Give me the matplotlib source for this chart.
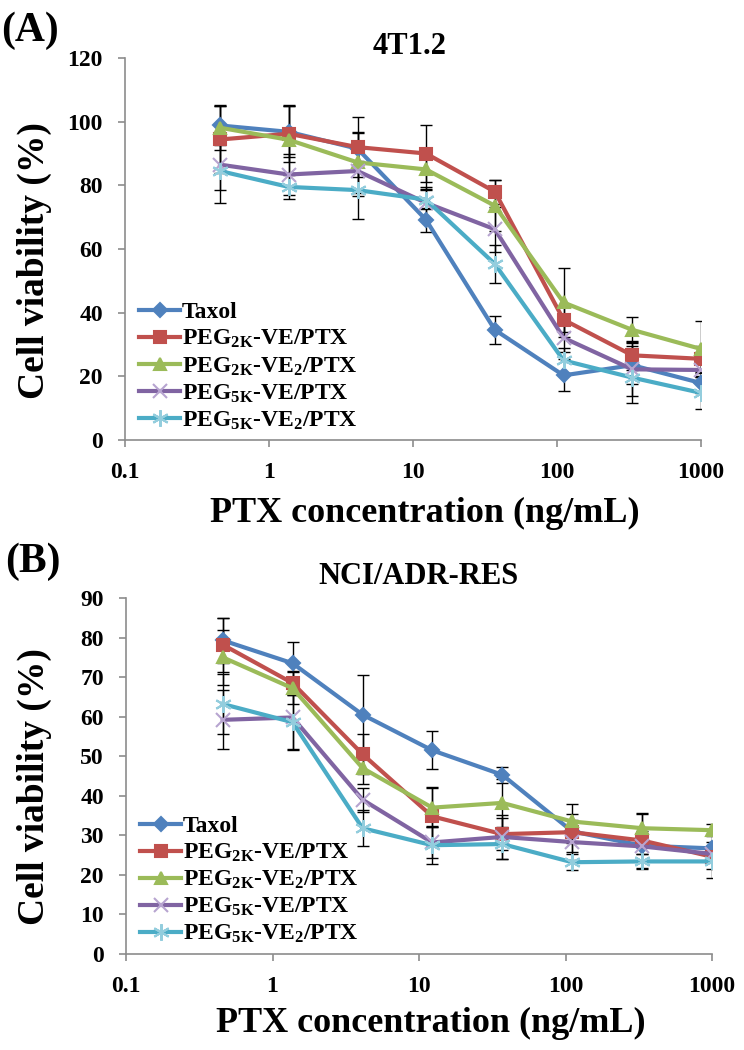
import numpy as np
import matplotlib
matplotlib.use("Agg")
import matplotlib.pyplot as plt

plt.rcParams.update({
    "font.family": "Liberation Serif",
    "font.weight": "bold",
    "mathtext.fontset": "custom",
    "mathtext.rm": "Liberation Serif:bold",
    "mathtext.bf": "Liberation Serif:bold",
    "mathtext.it": "Liberation Serif:bold",
})

# PTX concentrations (ng/mL), 3-fold dilutions
conc = [0.457, 1.37, 4.12, 12.3, 37.0, 111.0, 333.0, 1000.0]

series_labels = [
    "Taxol",
    r"PEG$_{\mathrm{2K}}$-VE/PTX",
    r"PEG$_{\mathrm{2K}}$-VE$_{\mathrm{2}}$/PTX",
    r"PEG$_{\mathrm{5K}}$-VE/PTX",
    r"PEG$_{\mathrm{5K}}$-VE$_{\mathrm{2}}$/PTX",
]

# (A) 4T1.2
a_taxol = [98.8, 96.8, 91.5, 69.2, 34.6, 20.3, 23.5, 17.9]
a_2kve = [94.4, 96.2, 92.0, 90.0, 78.0, 37.8, 26.6, 25.5]
a_2kve2 = [98.1, 94.3, 87.2, 85.0, 73.6, 43.2, 34.6, 28.6]
a_5kve = [86.5, 83.4, 84.5, 74.5, 66.2, 32.1, 22.2, 22.0]
a_5kve2 = [84.5, 79.5, 78.5, 75.5, 55.3, 25.0, 19.6, 14.8]

a_taxol_err = [6.0, 8.0, 5.0, 3.8, 4.5, 5.0, 6.0, 3.0]
a_2kve_err = [10.5, 9.0, 9.5, 8.8, 3.8, 4.0, 4.5, 4.0]
a_2kve2_err = [7.0, 10.5, 9.5, 6.0, 8.0, 10.8, 4.0, 8.7]
a_5kve_err = [8.0, 6.5, 8.0, 5.0, 7.0, 4.5, 8.5, 2.0]
a_5kve2_err = [10.0, 3.8, 9.0, 3.0, 6.0, 4.0, 8.0, 5.0]

# (B) NCI/ADR-RES
b_taxol = [79.3, 73.5, 60.5, 51.5, 45.3, 31.0, 27.4, 26.7]
b_2kve = [78.2, 68.5, 50.5, 34.8, 30.3, 30.8, 28.7, 24.6]
b_2kve2 = [75.0, 67.2, 47.0, 37.0, 38.2, 33.5, 31.8, 31.3]
b_5kve = [59.2, 59.8, 39.0, 28.2, 29.6, 28.3, 27.2, 25.3]
b_5kve2 = [63.2, 58.6, 31.8, 27.5, 27.8, 23.2, 23.4, 23.4]

b_taxol_err = [5.7, 5.5, 10.0, 4.8, 2.0, 3.0, 2.0, 1.5]
b_2kve_err = [6.8, 3.0, 5.0, 7.5, 4.0, 7.0, 7.0, 5.5]
b_2kve2_err = [7.0, 4.0, 4.0, 5.0, 6.0, 2.0, 3.5, 1.5]
b_5kve_err = [7.5, 8.0, 3.0, 4.0, 5.5, 2.5, 4.0, 2.0]
b_5kve2_err = [7.6, 7.0, 4.5, 4.8, 3.8, 2.0, 2.0, 2.0]

COLORS = ["#4F81BD", "#C0504D", "#9BBB59", "#8064A2", "#4BACC6"]
MARKER_EDGE = ["#4F81BD", "#C0504D", "#9BBB59", "#B7A4D0", "#93CDDD"]
MARKERS = ["D", "s", "^", "x", (6, 2, 0)]
MSIZE = [7, 9, 9, 10, 12]


def draw_panel(ax, values, errors, ymax, ystep, ylab_x, xlab_y):
    x = np.array(conc)
    # error bars first, behind the lines
    for vals, errs in zip(values, errors):
        ax.errorbar(x, vals, yerr=errs, fmt="none", ecolor="black",
                    elinewidth=1.0, capsize=4, capthick=1.0, zorder=2)
    for i, vals in enumerate(values):
        ax.plot(x, vals, color=COLORS[i], linewidth=3, marker=MARKERS[i],
                markersize=MSIZE[i], markerfacecolor=COLORS[i],
                markeredgecolor=MARKER_EDGE[i], markeredgewidth=1.5,
                label=series_labels[i], zorder=3 + i)

    ax.set_xscale("log")
    ax.set_xlim(0.1, 1000)
    ax.set_ylim(0, ymax)
    ax.set_xticks([0.1, 1, 10, 100, 1000])
    ax.set_xticklabels(["0.1", "1", "10", "100", "1000"])
    ax.set_yticks(np.arange(0, ymax + 1, ystep))
    ax.xaxis.set_minor_locator(matplotlib.ticker.NullLocator())
    for side in ["top", "right"]:
        ax.spines[side].set_visible(False)
    for side in ["left", "bottom"]:
        ax.spines[side].set_color("#8C8C8C")
        ax.spines[side].set_linewidth(1.2)
    ax.tick_params(axis="both", direction="out", color="#8C8C8C",
                   length=5, width=1.2, labelsize=17, pad=11)
    for lab in ax.get_xticklabels() + ax.get_yticklabels():
        lab.set_fontweight("bold")
    ax.set_ylabel("Cell viability (%)", fontsize=27, fontweight="bold")
    ax.yaxis.set_label_coords(ylab_x, 0.47)
    ax.set_xlabel("PTX concentration (ng/mL)", fontsize=26,
                  fontweight="bold")
    ax.xaxis.set_label_coords(0.52, xlab_y)
    ax.legend(loc="lower left", bbox_to_anchor=(0.0, -0.015), frameon=False,
              fontsize=17, handlelength=1.75, handletextpad=0.05,
              labelspacing=0.2, borderaxespad=0.2)


fig = plt.figure(figsize=(7.44, 10.5), dpi=100)
W, H = 744, 1050

ax_a = fig.add_axes([125 / W, 1 - 440 / H, (701 - 125) / W, (440 - 58) / H])
draw_panel(ax_a,
           [a_taxol, a_2kve, a_2kve2, a_5kve, a_5kve2],
           [a_taxol_err, a_2kve_err, a_2kve2_err, a_5kve_err, a_5kve2_err],
           120, 20, -0.127, -0.15)

ax_b = fig.add_axes([126 / W, 1 - 954 / H, (712 - 126) / W, (954 - 598) / H])
draw_panel(ax_b,
           [b_taxol, b_2kve, b_2kve2, b_5kve, b_5kve2],
           [b_taxol_err, b_2kve_err, b_2kve2_err, b_5kve_err, b_5kve2_err],
           90, 10, -0.126, -0.15)

fig.text(1 / W, 1 - 31 / H, "(A)", fontsize=30, fontweight="bold",
         ha="left", va="center")
fig.text(410 / W, 1 - 47 / H, "4T1.2", fontsize=22, fontweight="bold",
         ha="center", va="center")
fig.text(5 / W, 1 - 562 / H, "(B)", fontsize=30, fontweight="bold",
         ha="left", va="center")
fig.text(418 / W, 1 - 577 / H, "NCI/ADR-RES", fontsize=22,
         fontweight="bold", ha="center", va="center")

fig.savefig("out.png", dpi=100)
